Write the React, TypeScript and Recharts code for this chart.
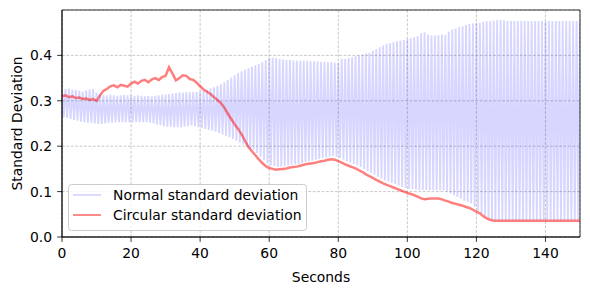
import React from 'react';
import { LineChart, Line, XAxis, YAxis, CartesianGrid, ReferenceArea, Legend } from 'recharts';

// Upper peaks of the normal standard deviation oscillation (one per second, t = 0..150)
const normalUpper = [
  0.322, 0.326, 0.327, 0.325, 0.324, 0.322, 0.320, 0.323, 0.325, 0.326,
  0.318, 0.315, 0.313, 0.312, 0.313, 0.312, 0.311, 0.312, 0.313, 0.312,
  0.312, 0.311, 0.312, 0.311, 0.310, 0.311, 0.310, 0.311, 0.312, 0.313,
  0.314, 0.315, 0.316, 0.317, 0.318, 0.318, 0.319, 0.319, 0.320, 0.320,
  0.321, 0.322, 0.324, 0.327, 0.330, 0.333, 0.337, 0.341, 0.346, 0.351,
  0.356, 0.361, 0.365, 0.369, 0.372, 0.375, 0.378, 0.381, 0.385, 0.390,
  0.395, 0.395, 0.394, 0.392, 0.391, 0.390, 0.390, 0.389, 0.389, 0.388,
  0.388, 0.388, 0.387, 0.387, 0.387, 0.386, 0.386, 0.385, 0.385, 0.384,
  0.384, 0.393, 0.392, 0.394, 0.396, 0.398, 0.400, 0.402, 0.404, 0.406,
  0.410, 0.414, 0.418, 0.422, 0.425, 0.427, 0.429, 0.431, 0.433, 0.434,
  0.436, 0.438, 0.440, 0.442, 0.449, 0.451, 0.446, 0.444, 0.444, 0.445,
  0.446, 0.445, 0.452, 0.457, 0.459, 0.462, 0.464, 0.467, 0.469, 0.470,
  0.471, 0.472, 0.474, 0.475, 0.476, 0.477, 0.478, 0.478, 0.477, 0.476,
  0.476, 0.476, 0.476, 0.476, 0.476, 0.475, 0.476, 0.476, 0.476, 0.476,
  0.475, 0.476, 0.476, 0.476, 0.476, 0.476, 0.476, 0.476, 0.476, 0.476,
  0.476,
];

// Lower troughs of the normal standard deviation oscillation (t = 0.5..149.5)
const normalLower = [
  0.264, 0.262, 0.260, 0.258, 0.256, 0.254, 0.253, 0.252, 0.251, 0.250,
  0.249, 0.249, 0.250, 0.251, 0.252, 0.253, 0.253, 0.253, 0.253, 0.253,
  0.253, 0.253, 0.253, 0.253, 0.253, 0.252, 0.250, 0.248, 0.246, 0.244,
  0.243, 0.243, 0.242, 0.242, 0.242, 0.243, 0.244, 0.245, 0.244, 0.242,
  0.240, 0.238, 0.236, 0.234, 0.232, 0.229, 0.226, 0.223, 0.220, 0.216,
  0.212, 0.208, 0.204, 0.199, 0.194, 0.192, 0.185, 0.177, 0.169, 0.162,
  0.158, 0.156, 0.154, 0.155, 0.156, 0.157, 0.159, 0.160, 0.161, 0.163,
  0.165, 0.167, 0.168, 0.170, 0.172, 0.174, 0.175, 0.177, 0.178, 0.177,
  0.174, 0.171, 0.167, 0.164, 0.161, 0.158, 0.154, 0.150, 0.145, 0.141,
  0.137, 0.133, 0.129, 0.125, 0.122, 0.119, 0.116, 0.113, 0.110, 0.108,
  0.106, 0.105, 0.104, 0.103, 0.103, 0.103, 0.103, 0.103, 0.103, 0.103,
  0.102, 0.100, 0.096, 0.092, 0.088, 0.084, 0.080, 0.077, 0.074, 0.066,
  0.058, 0.053, 0.047, 0.042, 0.039, 0.037, 0.037, 0.037, 0.037, 0.037,
  0.037, 0.037, 0.037, 0.037, 0.037, 0.037, 0.037, 0.037, 0.037, 0.037,
  0.037, 0.037, 0.037, 0.037, 0.037, 0.037, 0.037, 0.037, 0.037, 0.037,
];

// Circular standard deviation (t = 0..150)
const circularStd = [
  0.310, 0.312, 0.308, 0.310, 0.306, 0.307, 0.304, 0.305, 0.302, 0.304,
  0.300, 0.312, 0.322, 0.326, 0.332, 0.334, 0.330, 0.335, 0.333, 0.331,
  0.338, 0.342, 0.338, 0.344, 0.346, 0.341, 0.347, 0.350, 0.346, 0.352,
  0.355, 0.374, 0.360, 0.345, 0.350, 0.356, 0.355, 0.348, 0.346, 0.340,
  0.332, 0.325, 0.320, 0.315, 0.308, 0.302, 0.295, 0.285, 0.272, 0.260,
  0.248, 0.238, 0.226, 0.212, 0.198, 0.189, 0.180, 0.171, 0.163, 0.156,
  0.152, 0.150, 0.148, 0.149, 0.150, 0.151, 0.153, 0.154, 0.155, 0.157,
  0.159, 0.161, 0.162, 0.163, 0.165, 0.167, 0.168, 0.170, 0.171, 0.170,
  0.167, 0.164, 0.160, 0.157, 0.154, 0.151, 0.147, 0.143, 0.138, 0.134,
  0.130, 0.126, 0.122, 0.118, 0.115, 0.112, 0.109, 0.106, 0.103, 0.100,
  0.097, 0.095, 0.092, 0.089, 0.085, 0.083, 0.084, 0.085, 0.085, 0.085,
  0.083, 0.080, 0.078, 0.075, 0.073, 0.071, 0.069, 0.066, 0.064, 0.060,
  0.056, 0.052, 0.046, 0.041, 0.038, 0.036, 0.036, 0.036, 0.036, 0.036,
  0.036, 0.036, 0.036, 0.036, 0.036, 0.036, 0.036, 0.036, 0.036, 0.036,
  0.036, 0.036, 0.036, 0.036, 0.036, 0.036, 0.036, 0.036, 0.036, 0.036,
  0.036,
];

const xTicks = [0, 20, 40, 60, 80, 100, 120, 140];
const yTicks = [0, 0.1, 0.2, 0.3, 0.4];
const seriesNames = ['Normal standard deviation', 'Circular standard deviation'];

type Row = { t: number; normal?: number; circular?: number };
const rows: Row[] = [];
normalUpper.forEach((u, i) => {
  rows.push({ t: i, normal: u, circular: circularStd[i] });
  if (i < normalLower.length) rows.push({ t: i + 0.5, normal: normalLower[i] });
});

const FONT = 'DejaVu Sans';
const FS = 13.9;
const BLUE = 'rgba(0,0,255,0.16)';
const RED = 'rgba(255,0,0,0.5)';

const LegendBox = () => (
  <svg width={240} height={48} style={{ display: 'block' }}>
    <rect x={0.5} y={0.5} width={238} height={46} rx={3} ry={3} fill="rgba(255,255,255,0.8)" stroke="#cccccc" strokeWidth={1} />
    <line x1={5} x2={33} y1={11} y2={11} stroke={BLUE} strokeWidth={1.8} />
    <line x1={5} x2={33} y1={31} y2={31} stroke={RED} strokeWidth={1.8} />
    <text x={45} y={16} fontFamily={FONT} fontSize={FS} fill="#000">{seriesNames[0]}</text>
    <text x={45} y={36} fontFamily={FONT} fontSize={FS} fill="#000">{seriesNames[1]}</text>
  </svg>
);

export default function App() {
  return (
    <div style={{ position: 'absolute', left: 0, top: 0, width: 590, height: 290, background: '#fff' }}>
      <LineChart width={590} height={290} data={rows} margin={{ top: 10, right: 10, bottom: 0, left: 0 }}>
        <CartesianGrid stroke="#b0b0b0" strokeDasharray="2.8 1.6" strokeWidth={0.7} />
        <XAxis
          type="number"
          dataKey="t"
          domain={[0, 150]}
          ticks={xTicks}
          allowDataOverflow
          height={53}
          tickSize={4.86}
          tickMargin={6}
          tick={{ fill: '#000', fontSize: FS, fontFamily: FONT }}
          tickLine={{ stroke: '#000', strokeWidth: 0.8 }}
          axisLine={{ stroke: '#000', strokeWidth: 0.8 }}
          label={{
            content: () => (
              <text x={321} y={281.5} textAnchor="middle" fontFamily={FONT} fontSize={FS} fill="#000">Seconds</text>
            ),
          }}
        />
        <YAxis
          type="number"
          domain={[0, 0.5]}
          ticks={yTicks}
          allowDataOverflow
          width={62}
          tickSize={4.86}
          tickMargin={5}
          tickFormatter={(v: number) => v.toFixed(1)}
          tick={{ fill: '#000', fontSize: FS, fontFamily: FONT }}
          tickLine={{ stroke: '#000', strokeWidth: 0.8 }}
          axisLine={{ stroke: '#000', strokeWidth: 0.8 }}
          label={{
            content: () => (
              <text transform="translate(21.5,123.5) rotate(-90)" textAnchor="middle" fontFamily={FONT} fontSize={FS} fill="#000">Standard Deviation</text>
            ),
          }}
        />
        <Line
          type="linear"
          dataKey="normal"
          name={seriesNames[0]}
          stroke={BLUE}
          strokeWidth={1.9}
          dot={false}
          activeDot={false}
          connectNulls
          isAnimationActive={false}
        />
        <Line
          type="linear"
          dataKey="circular"
          name={seriesNames[1]}
          stroke={RED}
          strokeWidth={2.5}
          dot={false}
          activeDot={false}
          connectNulls
          isAnimationActive={false}
        />
        <ReferenceArea x1={0} x2={150} y1={0} y2={0.5} fill="none" stroke="#000" strokeWidth={0.8} ifOverflow="visible" />
        <Legend
          layout="vertical"
          align="center"
          verticalAlign="middle"
          content={() => <LegendBox />}
          wrapperStyle={{ position: 'absolute', left: 68, top: 184, width: 240, height: 48 }}
        />
      </LineChart>
    </div>
  );
}
